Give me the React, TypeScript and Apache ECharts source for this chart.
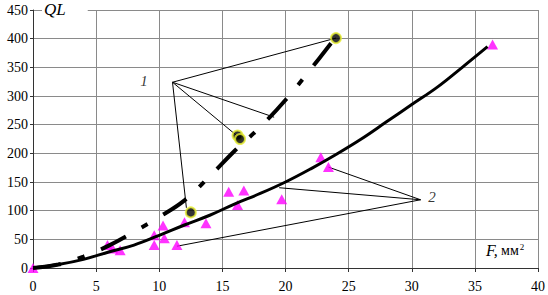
import React, { useEffect, useRef } from "react";
import * as echarts from "echarts";

// Curve 2 (solid, fitted curve through triangles)
const curve2: number[][] = [
  [0, 0], [2, 6], [4, 15], [6, 28], [8, 40], [10, 57], [12, 75], [14, 92],
  [16, 112], [18, 130], [20, 150], [22, 173], [24, 198], [26, 225], [28, 255],
  [30, 285], [32, 315], [34, 350], [36, 386],
];
// Curve 1 (dash-dot, fitted curve through circles)
const curve1: number[][] = [
  [0, 0], [2, 6], [4, 20], [6, 39], [8, 63], [10, 89], [12, 118], [14, 160],
  [16, 205], [18, 246], [20, 293], [22, 347], [24, 403],
];
// Series 2 points (magenta triangles)
const triangles: number[][] = [
  [0, 0], [5.9, 40], [6.3, 34], [6.9, 31], [9.6, 40], [9.6, 57], [10.3, 74],
  [10.4, 52], [11.4, 40], [12.0, 80], [13.7, 78], [15.5, 133], [16.2, 110],
  [16.7, 135], [19.7, 120], [22.8, 193], [23.4, 176], [36.4, 390],
];
// Series 1 points (black circles)
const circles: number[][] = [
  [12.5, 97], [16.2, 231], [16.4, 225], [24.0, 401],
];
// Leader lines (data coordinates): label anchor -> target
const leader1Anchor = [11.05, 324];
const leader1Targets: number[][] = [[24.0, 401], [19.1, 263], [16.3, 228], [12.15, 105]];
const leader2Anchor = [30.7, 119];
const leader2Targets: number[][] = [[23.4, 176], [19.5, 140], [11.4, 38]];
const calloutLabels = [
  { text: "1", pos: [8.8, 326] },
  { text: "2", pos: [31.6, 124] },
];
const xTicks = { min: 0, max: 40, interval: 5 };
const yTicks = { min: 0, max: 450, interval: 50 };

const FONT = "Liberation Serif";

export default function App() {
  const ref = useRef<HTMLDivElement>(null);
  useEffect(() => {
    document.body.style.margin = "0";
    if (!ref.current) return;
    const chart = echarts.init(ref.current, null, { renderer: "svg" });
    const leaderSeries: any[] = [];
    leader1Targets.forEach((t) =>
      leaderSeries.push({
        type: "line", data: [leader1Anchor, t], symbol: "none", z: 3,
        lineStyle: { color: "#000", width: 1 }, silent: true,
      })
    );
    leader2Targets.forEach((t) =>
      leaderSeries.push({
        type: "line", data: [leader2Anchor, t], symbol: "none", z: 3,
        lineStyle: { color: "#000", width: 1 }, silent: true,
      })
    );
    chart.setOption({
      animation: false,
      textStyle: { fontFamily: FONT },
      grid: { left: 33, right: 8, top: 10, bottom: 27 },
      xAxis: {
        type: "value", min: xTicks.min, max: xTicks.max, interval: xTicks.interval,
        axisLine: { show: true, onZero: false, lineStyle: { color: "#333", width: 1 } },
        axisTick: { show: true, length: 4, lineStyle: { color: "#333" } },
        axisLabel: { color: "#000", fontFamily: FONT, fontSize: 14, margin: 11 },
        splitLine: { show: true, lineStyle: { color: "#8a8a8a", width: 1 } },
      },
      yAxis: {
        type: "value", min: yTicks.min, max: yTicks.max, interval: yTicks.interval,
        axisLine: { show: true, lineStyle: { color: "#333", width: 1 } },
        axisTick: { show: true, length: 3, lineStyle: { color: "#333" } },
        axisLabel: { color: "#000", fontFamily: FONT, fontSize: 14, margin: 5 },
        splitLine: { show: true, lineStyle: { color: "#8a8a8a", width: 1 } },
      },
      series: [
        ...leaderSeries,
        {
          type: "scatter", data: triangles, symbol: "triangle", symbolSize: [11, 10],
          itemStyle: { color: "#ff00ff" }, z: 4,
        },
        {
          type: "line", data: curve2, smooth: 0.4, symbol: "none", z: 5,
          lineStyle: { color: "#000", width: 3 },
        },
        {
          type: "line", data: curve1, smooth: 0.4, symbol: "none", z: 5,
          lineStyle: { color: "#000", width: 4, type: [28, 18, 7, 18], cap: "butt" },
        },
        {
          type: "scatter", data: circles, symbol: "circle", symbolSize: 10,
          itemStyle: { color: "#000", borderColor: "#e6ee30", borderWidth: 2 }, z: 6,
        },
        {
          type: "scatter", data: calloutLabels.map((c) => ({ value: c.pos, name: c.text })),
          symbolSize: 0, z: 7,
          label: {
            show: true, position: "inside", formatter: (p: any) => p.name,
            color: "#000", fontFamily: FONT, fontStyle: "italic", fontSize: 15,
          },
        },
      ],
      graphic: [
        {
          type: "text", left: 42, top: 1, z: 100,
          style: {
            text: "QL", font: `italic 17px ${FONT}`, fill: "#000",
            backgroundColor: "#fff", padding: [0, 22, 2, 2],
          },
        },
        {
          type: "text", left: 480, top: 240, z: 100,
          style: {
            text: "{f|F,} {m|мм}{s|2}",
            backgroundColor: "#fff", padding: [2, 4, 3, 6],
            rich: {
              f: { fontFamily: FONT, fontStyle: "italic", fontSize: 16, fill: "#000" },
              m: { fontFamily: FONT, fontSize: 14, fill: "#000" },
              s: { fontFamily: FONT, fontSize: 9, fill: "#000", verticalAlign: "top", padding: [0, 0, 8, 1] },
            },
          },
        },
      ],
    });
    return () => chart.dispose();
  }, []);
  return <div ref={ref} style={{ width: 548, height: 295 }} />;
}
